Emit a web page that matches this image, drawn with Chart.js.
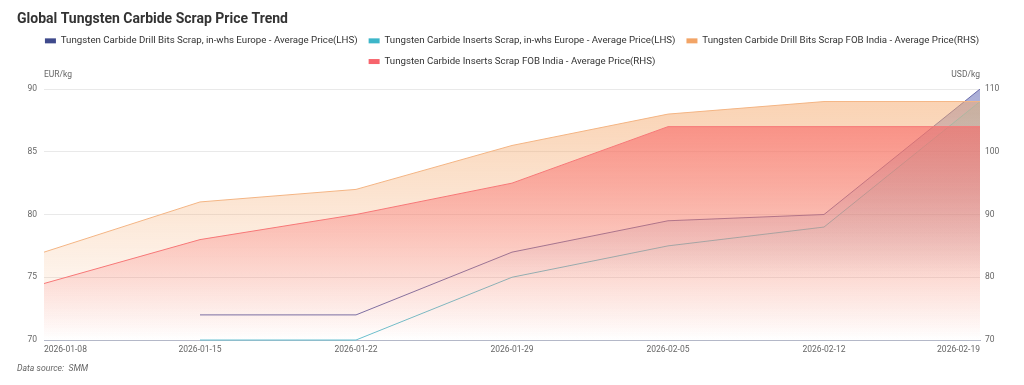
<!DOCTYPE html>
<html>
<head>
<meta charset="utf-8">
<script src="https://cdn.jsdelivr.net/npm/chart.js@4.4.1/dist/chart.umd.min.js"></script>
<style>
  html, body { margin: 0; padding: 0; background: #fff; }
  #wrap { width: 1024px; height: 385px; position: relative; }
</style>
</head>
<body>
<div id="wrap"><canvas id="myChart"></canvas></div>
<script>
const labels = ['2026-01-08', '2026-01-15', '2026-01-22', '2026-01-29', '2026-02-05', '2026-02-12', '2026-02-19'];
const drillEurope = [null, 72, 72, 77, 79.5, 80, 90];
const insertsEurope = [null, 70, 70, 75, 77.5, 79, 89];
const drillIndia = [84, 92, 94, 101, 106, 108, 108];
const insertsIndia = [79, 86, 90, 95, 104, 104, 104];
const leftTicks = [70, 75, 80, 85, 90];
const rightTicks = [70, 80, 90, 100, 110];

const FONT = "Roboto, 'Noto Sans', sans-serif";

// vertical fade over the plot area, reaching transparent at `end` (0..1)
function fade(rgb, a, end) {
  return (c) => {
    const area = c.chart.chartArea;
    if (!area) return 'rgba(' + rgb + ',' + a + ')';
    const g = c.chart.ctx.createLinearGradient(0, area.top, 0, area.bottom);
    g.addColorStop(0, 'rgba(' + rgb + ',' + a + ')');
    g.addColorStop(end || 1, 'rgba(' + rgb + ',0)');
    return g;
  };
}

// title, unit labels and source note
const textBits = {
  id: 'textBits',
  afterDraw(chart) {
    const { ctx, chartArea } = chart;
    ctx.save();
    ctx.textBaseline = 'middle';
    ctx.fillStyle = '#333';
    ctx.font = 'bold 14px ' + FONT;
    ctx.textAlign = 'left';
    ctx.fillText('Global Tungsten Carbide Scrap Price Trend', 17, 19);
    ctx.fillStyle = '#666';
    ctx.font = '8.5px ' + FONT;
    ctx.fillText('EUR/kg', chartArea.left, 75);
    ctx.textAlign = 'right';
    ctx.fillText('USD/kg', chartArea.right, 75);
    ctx.textAlign = 'left';
    ctx.font = 'italic 8.7px ' + FONT;
    ctx.fillText('Data source:  SMM', 17, 369);
    ctx.restore();
  }
};

const legendHeight = {
  id: 'legendHeight',
  beforeInit(chart) {
    const fit = chart.legend.fit;
    chart.legend.fit = function () {
      fit.bind(chart.legend)();
      this.height = 64;
    };
  }
};

const ctx = document.getElementById('myChart');
const myChart = new Chart(ctx, {
  type: 'line',
  data: {
    labels: labels,
    datasets: [{
      label: 'Tungsten Carbide Drill Bits Scrap, in-whs Europe - Average Price(LHS)',
      data: drillEurope,
      yAxisID: 'y',
      borderColor: '#6a6cab',
      backgroundColor: fade('88,96,176', 0.52, 0.75),
      legendColor: '#3f4a8c',
      fill: 'start',
      order: 3
    }, {
      label: 'Tungsten Carbide Inserts Scrap, in-whs Europe - Average Price(LHS)',
      data: insertsEurope,
      yAxisID: 'y',
      borderColor: '#68c1d0',
      backgroundColor: fade('100,190,200', 0.3, 0.75),
      legendColor: '#3db6c9',
      fill: 'start',
      clip: { left: 0, top: 0, right: 0, bottom: 2 },
      order: 2
    }, {
      label: 'Tungsten Carbide Drill Bits Scrap FOB India - Average Price(RHS)',
      data: drillIndia,
      yAxisID: 'y1',
      borderColor: '#f4b584',
      backgroundColor: fade('245,170,110', 0.55),
      legendColor: '#f2a466',
      fill: 'start',
      order: 1
    }, {
      label: 'Tungsten Carbide Inserts Scrap FOB India - Average Price(RHS)',
      data: insertsIndia,
      yAxisID: 'y1',
      borderColor: '#f77878',
      backgroundColor: fade('248,100,100', 0.7),
      legendColor: '#f7646c',
      fill: 'start',
      order: 0
    }]
  },
  options: {
    animation: false,
    maintainAspectRatio: false,
    layout: { padding: { top: 25, left: 0, right: 0, bottom: 0 } },
    elements: {
      line: { borderWidth: 1, tension: 0 },
      point: { radius: 0, hoverRadius: 3 }
    },
    interaction: { mode: 'index', intersect: false },
    scales: {
      x: {
        grid: { display: false, drawTicks: false },
        border: { color: '#b4b8c8' },
        afterFit(s) { s.height = 45; },
        ticks: {
          align: 'inner',
          maxRotation: 0,
          autoSkip: false,
          color: '#666',
          padding: 4.5,
          font: { size: 8.5, family: FONT }
        }
      },
      y: {
        position: 'left',
        min: leftTicks[0],
        max: leftTicks[leftTicks.length - 1],
        afterFit(s) { s.width = 44; },
        afterBuildTicks(s) { s.ticks = leftTicks.map(v => ({ value: v })); },
        grid: { color: '#e9e9e9', drawTicks: false },
        border: { display: false },
        ticks: { color: '#666', padding: 7, font: { size: 8.5, family: FONT } }
      },
      y1: {
        position: 'right',
        min: rightTicks[0],
        max: rightTicks[rightTicks.length - 1],
        afterFit(s) { s.width = 44; },
        afterBuildTicks(s) { s.ticks = rightTicks.map(v => ({ value: v })); },
        grid: { display: false, drawTicks: false },
        border: { display: false },
        ticks: { color: '#666', padding: 5, font: { size: 8.5, family: FONT } }
      }
    },
    plugins: {
      title: { display: false },
      legend: {
        position: 'top',
        labels: {
          color: '#333',
          boxWidth: 11,
          boxHeight: 5,
          padding: 11,
          font: { size: 9.7, family: FONT },
          sort: (a, b) => a.datasetIndex - b.datasetIndex,
          generateLabels(chart) {
            const items = Chart.defaults.plugins.legend.labels.generateLabels(chart);
            items.forEach(it => {
              const c = chart.data.datasets[it.datasetIndex].legendColor;
              it.fillStyle = c;
              it.strokeStyle = c;
              it.lineWidth = 0;
            });
            return items;
          }
        }
      }
    }
  },
  plugins: [textBits, legendHeight]
});
</script>
</body>
</html>
